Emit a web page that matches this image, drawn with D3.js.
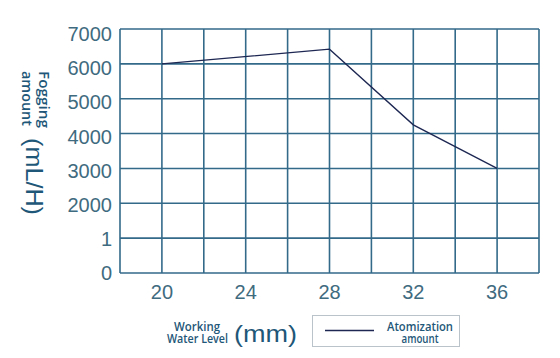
<!DOCTYPE html>
<html><head><meta charset="utf-8">
<script src="https://cdn.jsdelivr.net/npm/d3@7"></script>
<style>body{margin:0;background:#fff}</style>
</head><body>
<svg id="c" width="560" height="358"></svg>
<script>
const xTicks = [20, 24, 28, 32, 36];
const xGrid = [18, 20, 22, 24, 26, 28, 30, 32, 34, 36, 38];
const yTicks = [0, 1000, 2000, 3000, 4000, 5000, 6000, 7000];
const yTickLabels = ["0", "1", "2000", "3000", "4000", "5000", "6000", "7000"];
const waterLevel = [20, 28, 32, 36];
const atomization = [6000, 6420, 4250, 3000];
const seriesName = ["Atomization", "amount"];

(function () {
const svg = d3.select("#c");
const pL = 120, pR = 539, pT = 29, pB = 273;
const x = d3.scaleLinear().domain([18, 38]).range([pL, pR]);
const y = d3.scaleLinear().domain([0, 7000]).range([pB, pT]);
const gridColor = "#336a8a";
const textColor = "#3f6b80";
const titleColor = "#1e5778";
const boldFont = "Open Sans, Noto Sans, sans-serif";

// grid
svg.append("g").selectAll("line").data(xGrid).join("line")
  .attr("x1", d => x(d)).attr("x2", d => x(d))
  .attr("y1", pT).attr("y2", pB)
  .attr("stroke", gridColor).attr("stroke-width", 1.6);
svg.append("g").selectAll("line").data(yTicks).join("line")
  .attr("x1", pL).attr("x2", pR)
  .attr("y1", d => y(d)).attr("y2", d => y(d))
  .attr("stroke", gridColor).attr("stroke-width", 1.6);

// y tick labels
svg.append("g").selectAll("text").data(yTicks).join("text")
  .attr("x", 112).attr("y", d => y(d))
  .attr("dy", (d, i) => (7 + i * 0.75) + "px")
  .attr("text-anchor", "end")
  .attr("font-family", "Liberation Sans, Arial, sans-serif")
  .attr("font-size", 20).attr("fill", textColor)
  .text((d, i) => yTickLabels[i]);

// x tick labels
svg.append("g").selectAll("text").data(xTicks).join("text")
  .attr("x", d => x(d)).attr("y", 299)
  .attr("text-anchor", "middle")
  .attr("font-family", "Liberation Sans, Arial, sans-serif")
  .attr("font-size", 20).attr("fill", textColor)
  .text(d => d);

// line
const line = d3.line().x((d, i) => x(waterLevel[i])).y(d => y(d));
svg.append("path").datum(atomization)
  .attr("d", line).attr("fill", "none")
  .attr("stroke", "#1d2752").attr("stroke-width", 1.3);

// y title
const yt = svg.append("g");
yt.append("text").attr("transform", "translate(39,99.5) rotate(90)")
  .attr("text-anchor", "middle")
  .attr("font-family", boldFont).attr("font-weight", 600)
  .attr("font-size", 14).attr("fill", titleColor)
  .attr("textLength", 57).attr("lengthAdjust", "spacingAndGlyphs")
  .text("Fogging");
yt.append("text").attr("transform", "translate(21.5,98.5) rotate(90)")
  .attr("text-anchor", "middle")
  .attr("font-family", boldFont).attr("font-weight", 600)
  .attr("font-size", 14).attr("fill", titleColor)
  .attr("textLength", 55).attr("lengthAdjust", "spacingAndGlyphs")
  .text("amount");
yt.append("text").attr("transform", "translate(25.5,176.5) rotate(90)")
  .attr("text-anchor", "middle")
  .attr("font-family", "Liberation Sans, Arial, sans-serif")
  .attr("font-size", 24).attr("fill", titleColor)
  .attr("textLength", 77).attr("lengthAdjust", "spacingAndGlyphs")
  .text("(mL/H)");

// x title
const xt = svg.append("g");
xt.append("text").attr("x", 197).attr("y", 331)
  .attr("text-anchor", "middle")
  .attr("font-family", boldFont).attr("font-weight", 600)
  .attr("font-size", 12.5).attr("fill", titleColor)
  .attr("textLength", 46).attr("lengthAdjust", "spacingAndGlyphs")
  .text("Working");
xt.append("text").attr("x", 197.5).attr("y", 343)
  .attr("text-anchor", "middle")
  .attr("font-family", boldFont).attr("font-weight", 600)
  .attr("font-size", 12.5).attr("fill", titleColor)
  .attr("textLength", 61).attr("lengthAdjust", "spacingAndGlyphs")
  .text("Water Level");
xt.append("text").attr("x", 265.5).attr("y", 342)
  .attr("text-anchor", "middle")
  .attr("font-family", "Liberation Sans, Arial, sans-serif")
  .attr("font-size", 24).attr("fill", titleColor)
  .attr("textLength", 63).attr("lengthAdjust", "spacingAndGlyphs")
  .text("(mm)");

// legend
const lg = svg.append("g");
lg.append("rect").attr("x", 312.5).attr("y", 315.5).attr("width", 147).attr("height", 31)
  .attr("fill", "#fff").attr("stroke", "#b9c3c9").attr("stroke-width", 1);
lg.append("line").attr("x1", 325).attr("x2", 374).attr("y1", 330.5).attr("y2", 330.5)
  .attr("stroke", "#1d2752").attr("stroke-width", 1.3);
const legLen = [66, 37];
lg.selectAll("text.l").data(seriesName).join("text")
  .attr("x", 420).attr("y", (d, i) => 331 + i * 11.5)
  .attr("text-anchor", "middle")
  .attr("font-family", boldFont).attr("font-weight", 600)
  .attr("font-size", 12.5).attr("fill", titleColor)
  .attr("textLength", (d, i) => legLen[i]).attr("lengthAdjust", "spacingAndGlyphs")
  .text(d => d);
})();
</script>
</body></html>
